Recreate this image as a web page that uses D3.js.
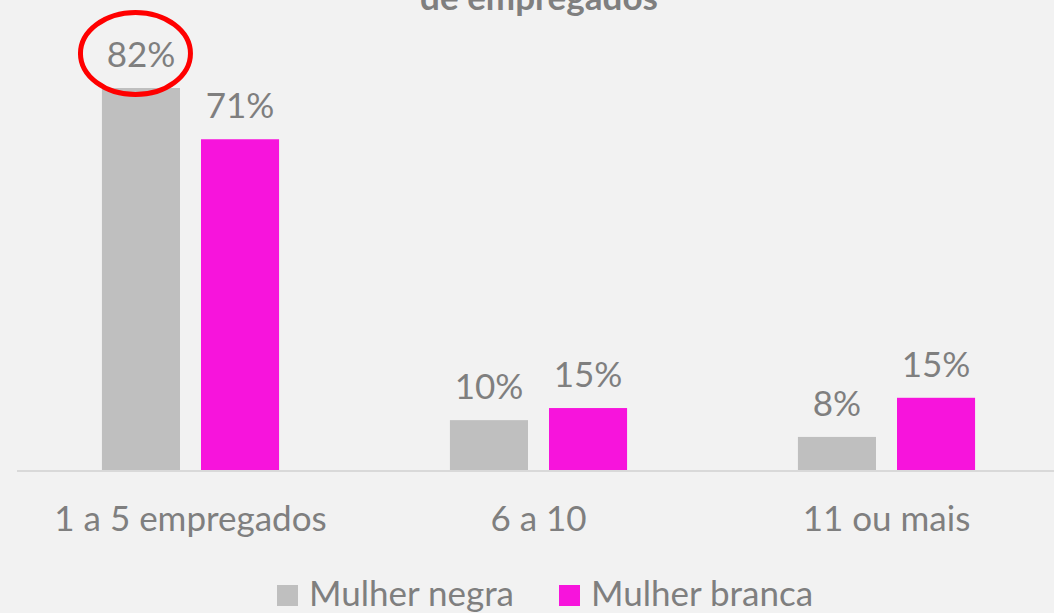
<!DOCTYPE html>
<html>
<head>
<meta charset="utf-8">
<script src="https://cdn.jsdelivr.net/npm/d3@7"></script>
<style>
  html, body { margin: 0; padding: 0; background: #f2f2f2; }
  svg text { font-family: Lato, "Open Sans", sans-serif; fill: #7f7f7f; }
</style>
</head>
<body>
<div id="chart"></div>
<script>
const categories = ['1 a 5 empregados', '6 a 10', '11 ou mais'];
const seriesNames = ['Mulher negra', 'Mulher branca'];
const seriesColors = ['#bfbfbf', '#f714dc'];
// bar heights as drawn in the picture
const negra = [82, 10.7, 7.1];
const branca = [71, 13.3, 15.5];
// data labels as printed
const negraLabels = ['82%', '10%', '8%'];
const brancaLabels = ['71%', '15%', '15%'];

const draw = () => {
  let width = 1054,
      height = 613,
      base = 470,
      fontSize = '35px',
      svg = d3.select('#chart')
              .append('svg')
                .attr('width', width)
                .attr('height', height),
      x0 = d3.scaleBand()
              .domain(categories)
              .range([16.5, 1060.5])
              .paddingInner(0.491)
              .paddingOuter(0.2455),
      x1 = d3.scaleBand()
              .domain(seriesNames)
              .range([0, x0.bandwidth()])
              .paddingInner(0.212),
      y = d3.scaleLinear()
              .domain([0, 100])
              .range([base, base - 465.85]);

  let rows = [];
  categories.forEach((c, i) => {
    rows.push({cat: c, s: seriesNames[0], v: negra[i], lab: negraLabels[i], col: seriesColors[0]});
    rows.push({cat: c, s: seriesNames[1], v: branca[i], lab: brancaLabels[i], col: seriesColors[1]});
  });

  // title (first line is outside the frame)
  svg.append('text')
      .attr('x', 539)
      .attr('y', 10)
      .attr('text-anchor', 'middle')
      .style('font-weight', 'bold')
      .style('font-size', fontSize)
      .text('de empregados');

  svg.selectAll('rect.bar')
      .data(rows)
      .enter()
        .append('rect')
          .attr('class', 'bar')
          .attr('x', d => x0(d.cat) + x1(d.s))
          .attr('y', d => y(d.v))
          .attr('width', x1.bandwidth())
          .attr('height', d => base - y(d.v))
          .attr('fill', d => d.col);

  // axis line
  svg.append('line')
      .attr('x1', 17)
      .attr('x2', width)
      .attr('y1', base + 1)
      .attr('y2', base + 1)
      .attr('stroke', '#d9d9d9')
      .attr('stroke-width', 2);

  svg.selectAll('text.val')
      .data(rows)
      .enter()
        .append('text')
          .attr('class', 'val')
          .attr('x', d => x0(d.cat) + x1(d.s) + x1.bandwidth() / 2)
          .attr('y', d => y(d.v) - 21)
          .attr('text-anchor', 'middle')
          .style('font-size', fontSize)
          .text(d => d.lab);

  // red highlight around the first label
  svg.append('ellipse')
      .attr('cx', x0(categories[0]) + x1(seriesNames[0]) + x1.bandwidth() / 2 - 5.5)
      .attr('cy', y(negra[0]) - 34.5)
      .attr('rx', 55)
      .attr('ry', 41)
      .attr('fill', 'none')
      .attr('stroke', '#ff0000')
      .attr('stroke-width', 5);

  svg.selectAll('text.cat')
      .data(categories)
      .enter()
        .append('text')
          .attr('class', 'cat')
          .attr('x', d => x0(d) + x0.bandwidth() / 2)
          .attr('y', 531)
          .attr('text-anchor', 'middle')
          .style('font-size', fontSize)
          .text(d => d);

  // legend
  let legendX = [277, 559];
  seriesNames.forEach((s, i) => {
    svg.append('rect')
        .attr('x', legendX[i])
        .attr('y', 585)
        .attr('width', 21)
        .attr('height', 21)
        .attr('fill', seriesColors[i]);
    svg.append('text')
        .attr('x', legendX[i] + 32)
        .attr('y', 606)
        .style('font-size', fontSize)
        .text(s);
  });
};

draw();
</script>
</body>
</html>
